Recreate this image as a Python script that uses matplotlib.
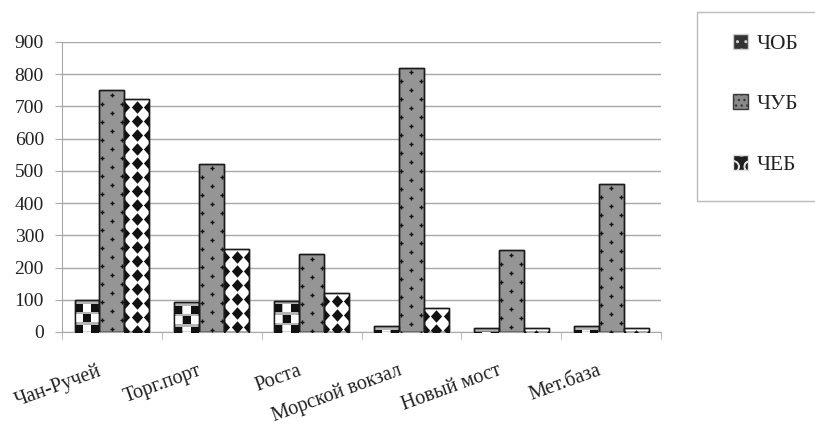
import numpy as np
import matplotlib.pyplot as plt
import matplotlib.transforms as mtransforms
from matplotlib.patches import Patch, Rectangle

plt.rcParams['font.family'] = ['Liberation Serif', 'DejaVu Serif']

categories = ["Чан-Ручей", "Торг.порт", "Роста", "Морской вокзал", "Новый мост", "Мет.база"]
series_names = ["ЧОБ", "ЧУБ", "ЧЕБ"]
chob = [98, 92, 97, 18, 12, 18]
chub = [750, 522, 242, 820, 253, 460]
cheb = [722, 258, 122, 75, 12, 12]
yticks = np.arange(0, 901, 100)

grid_color = "#a8a8a8"
text_color = "#222222"

fig = plt.figure(figsize=(8.15, 4.28), dpi=100)
ax = fig.add_axes([0.0761, 0.2243, 0.7350, 0.6776])

x = np.arange(len(categories))
w = 0.25
ax.set_xlim(-0.5, len(categories) - 0.5)
ax.set_ylim(0, 900)

# data units per pixel (vertical), used to space the fill patterns
upp = 900 / (0.6776 * 428)
diamond = [(0, 1), (0.9, 0), (0, -1), (-0.9, 0), (0, 1)]


def pattern(bars, rows_spec, step_px, marker, size, first_px=None):
    """scatter a repeating marker pattern clipped to each bar"""
    step = step_px * upp
    start = (first_px if first_px is not None else step_px / 2) * upp
    for bar in bars:
        bx, bw, bh = bar.get_x(), bar.get_width(), bar.get_height()
        ys = np.arange(bh - start, -step, -step)
        for k, yy in enumerate(ys):
            fracs, cols = rows_spec[k % len(rows_spec)]
            for f, c in zip(fracs, cols):
                sc = ax.scatter([bx + bw * f], [yy], marker=marker, s=size ** 2,
                                c=c, linewidths=0 if marker != "+" else 1.0, zorder=3)
                sc.set_clip_path(bar)


b1 = ax.bar(x - w, chob, w, color="#b5b5b5", edgecolor="#1a1a1a", linewidth=1, zorder=2)
b2 = ax.bar(x, chub, w, color="#959595", edgecolor="#1a1a1a", linewidth=1, zorder=2)
b3 = ax.bar(x + w, cheb, w, color="white", edgecolor="#1a1a1a", linewidth=1, zorder=2)

pattern(b1, [([1 / 6, 1 / 2, 5 / 6], ["#111", "white", "#111"]),
             ([1 / 6, 1 / 2, 5 / 6], ["white", "#111", "white"])],
        10.5, "s", 5.8, first_px=7.5)
pattern(b2, [([0.5], ["#111"]), ([0.1, 0.9], ["#111", "#111"])], 9, "+", 3.5)
pattern(b3, [([0.0, 0.5, 1.0], ["#111", "#111", "#111"])], 14, diamond, 9.0, first_px=8)

# outlines on top of the patterns
for bars in (b1, b2, b3):
    for bar in bars:
        ax.add_patch(Rectangle((bar.get_x(), 0), bar.get_width(), bar.get_height(),
                               fill=False, edgecolor="#1a1a1a", linewidth=1, zorder=4))

ax.set_yticks(yticks)
ax.yaxis.grid(True, color=grid_color, linewidth=1)
ax.set_axisbelow(True)
ax.tick_params(axis="y", length=5, color=grid_color, labelsize=14, labelcolor=text_color, pad=8)

ax.set_xticks(x)
ax.set_xticklabels(categories, rotation=20, ha="right", va="top", rotation_mode="anchor")
ax.set_xticks(np.arange(-0.5, len(categories), 1), minor=True)
ax.tick_params(axis="x", which="major", length=0, labelsize=14.5, labelcolor=text_color, pad=21)
ax.tick_params(axis="x", which="minor", length=5, color=grid_color)
shift = mtransforms.ScaledTranslation(-14 / 100, 0, fig.dpi_scale_trans)
for lbl in ax.get_xticklabels():
    lbl.set_transform(lbl.get_transform() + shift)

for s in ("top", "right"):
    ax.spines[s].set_visible(False)
ax.spines["left"].set_color(grid_color)
ax.spines["bottom"].set_color(grid_color)

handles = [
    Patch(facecolor="#333333", edgecolor="#cfcfcf", hatch="..", label=series_names[0]),
    Patch(facecolor="#8a8a8a", edgecolor="#3a3a3a", hatch="...", label=series_names[1]),
    Patch(facecolor="#1e1e1e", edgecolor="#e0e0e0", hatch="O", label=series_names[2]),
]
leg = fig.legend(handles=handles, loc="upper left", bbox_to_anchor=(733 / 815, 1 - 34 / 428),
                 fontsize=15.5, frameon=False, borderpad=0, labelspacing=1.88,
                 handlelength=0.68, handleheight=0.68, handletextpad=0.4, borderaxespad=0)
for t in leg.get_texts():
    t.set_color(text_color)

# legend frame, running off the right edge as in the original
fig.add_artist(Rectangle((697 / 815, 1 - 201 / 428), 130 / 815, 189 / 428,
                         transform=fig.transFigure, fill=False,
                         edgecolor="#bbbbbb", linewidth=1))

fig.savefig("out.png", dpi=100)
